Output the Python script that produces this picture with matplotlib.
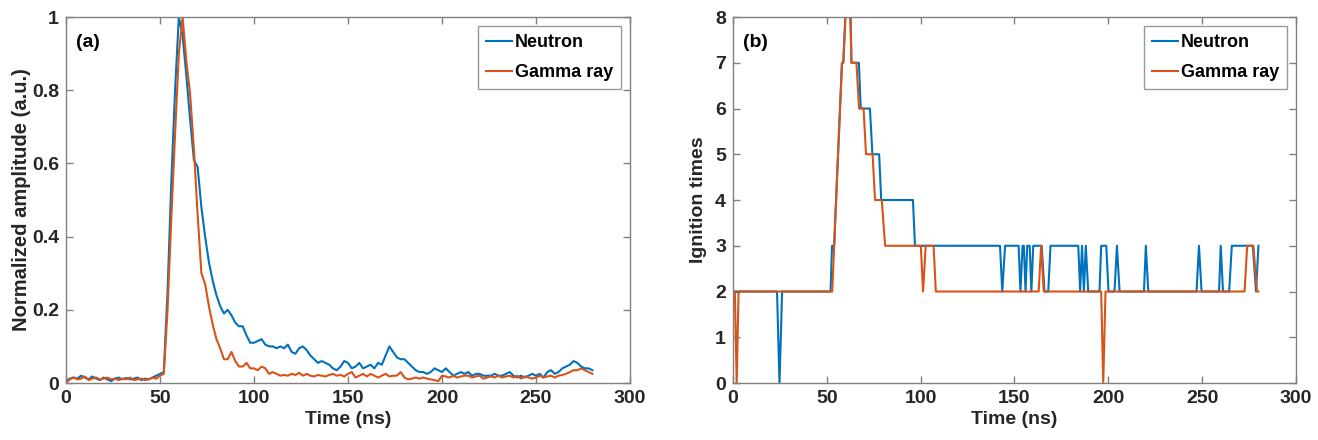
import numpy as np
import matplotlib
matplotlib.use("Agg")
import matplotlib.pyplot as plt

plt.rcParams['font.family'] = ['Liberation Sans', 'DejaVu Sans']
plt.rcParams['font.weight'] = 'bold'
plt.rcParams['axes.labelweight'] = 'bold'

# (a) normalized waveforms, sampled every 2 ns
t_wave = np.arange(0, 281, 2)
neutron_amp = [
    0.005, 0.012, 0.015, 0.012, 0.02, 0.015, 0.01, 0.018, 0.012, 0.008,
    0.015, 0.01, 0.005, 0.012, 0.015, 0.01, 0.014, 0.01, 0.012, 0.015,
    0.008, 0.012, 0.01, 0.015, 0.02, 0.025, 0.03, 0.25, 0.55, 0.8,
    1.0, 0.95, 0.84, 0.72, 0.61, 0.59, 0.48, 0.4, 0.33, 0.28,
    0.24, 0.21, 0.19, 0.2, 0.185, 0.165, 0.155, 0.155, 0.13, 0.11,
    0.11, 0.115, 0.12, 0.105, 0.1, 0.1, 0.095, 0.1, 0.095, 0.105,
    0.085, 0.08, 0.095, 0.1, 0.09, 0.075, 0.065, 0.055, 0.06, 0.055,
    0.05, 0.04, 0.035, 0.045, 0.06, 0.055, 0.04, 0.045, 0.055, 0.04,
    0.045, 0.05, 0.04, 0.055, 0.05, 0.075, 0.1, 0.085, 0.07, 0.065,
    0.065, 0.055, 0.045, 0.035, 0.03, 0.03, 0.025, 0.03, 0.04, 0.035,
    0.03, 0.04, 0.03, 0.02, 0.025, 0.03, 0.025, 0.03, 0.02, 0.025,
    0.025, 0.02, 0.02, 0.02, 0.025, 0.02, 0.02, 0.025, 0.03, 0.02,
    0.015, 0.02, 0.015, 0.02, 0.025, 0.02, 0.025, 0.015, 0.03, 0.035,
    0.025, 0.03, 0.04, 0.045, 0.05, 0.06, 0.055, 0.045, 0.04, 0.04,
    0.035]
gamma_amp = [
    0.0, 0.01, 0.015, 0.01, 0.012, 0.018, 0.008, 0.012, 0.015, 0.01,
    0.012, 0.015, 0.01, 0.012, 0.008, 0.012, 0.01, 0.015, 0.008, 0.01,
    0.012, 0.008, 0.01, 0.015, 0.012, 0.02, 0.025, 0.2, 0.45, 0.68,
    0.9, 1.0, 0.88, 0.79, 0.64, 0.46, 0.3, 0.27, 0.21, 0.16,
    0.12, 0.095, 0.065, 0.065, 0.085, 0.06, 0.045, 0.045, 0.055, 0.04,
    0.04, 0.035, 0.045, 0.04, 0.025, 0.03, 0.025, 0.02, 0.022, 0.02,
    0.025, 0.022, 0.028, 0.02, 0.025, 0.02, 0.018, 0.022, 0.02, 0.018,
    0.022, 0.025, 0.02, 0.022, 0.018, 0.025, 0.03, 0.015, 0.02, 0.025,
    0.018, 0.025, 0.02, 0.015, 0.02, 0.025, 0.018, 0.02, 0.02, 0.03,
    0.015, 0.01, 0.012, 0.015, 0.012, 0.015, 0.012, 0.01, 0.008, 0.005,
    0.02, 0.018, 0.015, 0.02, 0.015, 0.018, 0.02, 0.02, 0.015, 0.018,
    0.02, 0.012, 0.015, 0.018, 0.015, 0.02, 0.015, 0.018, 0.02, 0.015,
    0.02, 0.012, 0.018, 0.015, 0.012, 0.015, 0.02, 0.015, 0.018, 0.02,
    0.015, 0.02, 0.022, 0.025, 0.03, 0.035, 0.035, 0.04, 0.035, 0.03,
    0.025]

# (b) ignition counts, given at the points where the count changes
t_neutron = [1, 23.5, 24.8, 26.2, 52, 52.8, 53.9, 58.1, 58.8, 59.9, 62.5, 63.2,
             67.1, 68.1, 73, 74.3, 77.9, 79, 95.9, 97, 142.3, 143.5, 145,
             152.2, 153.2, 154.3, 155, 155.9, 156.8, 158.1, 159, 160, 164.5,
             166, 168, 169.2, 184, 185, 186, 187, 188, 189.3, 195.3, 196.2,
             198.9, 200.1, 203.3, 204.6, 206, 219, 220, 221.3, 247, 248.3,
             249.7, 259, 259.9, 261.1, 264.4, 265.8, 277, 278.7, 280]
n_neutron = [2, 2, 0, 2, 2, 3, 3, 7, 7, 8, 8, 7,
             7, 6, 6, 5, 5, 4, 4, 3, 3, 2, 3,
             3, 2, 3, 3, 2, 3, 3, 2, 3, 3,
             2, 2, 3, 3, 2, 3, 2, 3, 2, 2, 3,
             3, 2, 2, 3, 2, 2, 3, 2, 2, 3,
             2, 2, 3, 2, 2, 3, 3, 2, 3]
t_gamma = [1, 2, 3, 52.9, 58.1, 58.8, 59.9, 62.8, 63.1, 65.8, 67.2, 69.6, 70.9,
           74.4, 75.7, 79.3, 81.1, 100.1, 101.3, 102.7, 106.9, 108.1, 162.9,
           164.2, 165.6, 196.2, 197.3, 198.5, 272.6, 274, 277.3, 279.2, 280]
n_gamma = [2, 0, 2, 2, 7, 7, 8, 8, 7, 7, 6, 6, 5,
           5, 4, 4, 3, 3, 2, 3, 3, 2, 2,
           3, 2, 2, 0, 2, 2, 3, 3, 2, 2]

c_neutron = '#0072BD'
c_gamma = '#D95319'
txt = '#262626'
edge = '#808080'

fig = plt.figure(figsize=(13.18, 4.4), dpi=100)
ax1 = fig.add_axes([0.0501, 0.1295, 0.4279, 0.8318])
ax2 = fig.add_axes([0.5561, 0.1295, 0.4272, 0.8318])

ax1.plot(t_wave, neutron_amp, color=c_neutron, lw=1.5, label='Neutron')
ax1.plot(t_wave, gamma_amp, color=c_gamma, lw=1.5, label='Gamma ray')
ax1.set_ylim(0, 1)
ax1.set_yticks([0, 0.2, 0.4, 0.6, 0.8, 1])
ax1.set_yticklabels(['0', '0.2', '0.4', '0.6', '0.8', '1'])
ax1.set_ylabel('Normalized amplitude (a.u.)', fontsize=14.5, color=txt, labelpad=1)
ax1.text(0.018, 0.93, '(a)', transform=ax1.transAxes, fontsize=14,
         fontweight='bold', color='black', va='center')

ax2.plot(t_neutron, n_neutron, color=c_neutron, lw=1.5, label='Neutron')
ax2.plot(t_gamma, n_gamma, color=c_gamma, lw=1.5, label='Gamma ray')
ax2.set_ylim(0, 8)
ax2.set_yticks(range(0, 9))
ax2.set_ylabel('Ignition times', fontsize=14, color=txt, labelpad=6)
ax2.text(0.018, 0.93, '(b)', transform=ax2.transAxes, fontsize=14,
         fontweight='bold', color='black', va='center')

for ax in (ax1, ax2):
    ax.set_xlim(0, 300)
    ax.set_xticks(range(0, 301, 50))
    ax.set_xlabel('Time (ns)', fontsize=14, color=txt, labelpad=3)
    ax.tick_params(direction='in', top=True, right=True, length=5,
                   width=1, colors=edge, labelcolor=txt, labelsize=14, pad=5)
    for s in ax.spines.values():
        s.set_color(edge)
        s.set_linewidth(1)
    leg = ax.legend(loc='upper right', fontsize=13, frameon=True, fancybox=False,
                    handlelength=1.45, handletextpad=0.15, borderpad=0.45,
                    labelspacing=0.7, borderaxespad=0.5)
    leg.get_frame().set_edgecolor(edge)
    leg.get_frame().set_linewidth(1)
    for tx in leg.get_texts():
        tx.set_color('black')

fig.savefig('out.png', dpi=100)
